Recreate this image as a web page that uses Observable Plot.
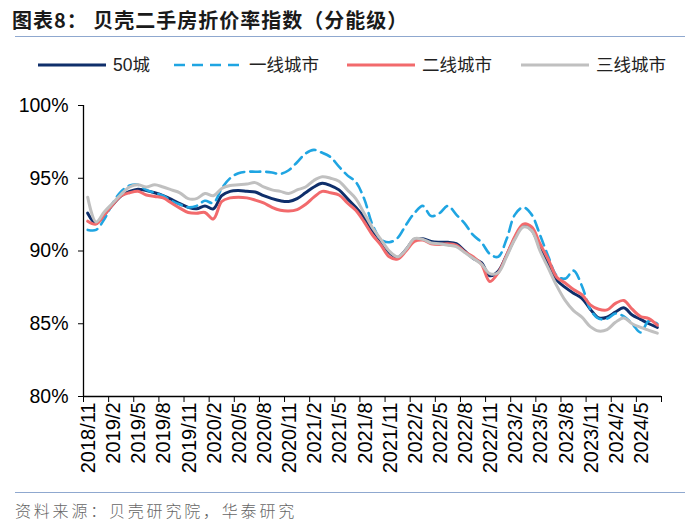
<!DOCTYPE html>
<html><head><meta charset="utf-8">
<script src="https://cdn.jsdelivr.net/npm/d3@7"></script>
<script src="https://cdn.jsdelivr.net/npm/@observablehq/plot@0.6"></script>
<style>
body{margin:0;width:700px;height:529px;position:relative;background:#fff;overflow:hidden;font-family:"Liberation Sans",Arial,sans-serif;}
#title{position:absolute;left:12px;top:5px;font-family:"Noto Sans CJK SC";font-weight:bold;font-size:20px;color:#1a1a1a;letter-spacing:1px;white-space:nowrap;}
.hr{position:absolute;left:15px;width:670px;height:0;border-top:1.5px solid #8fa8cf;}
#legend{position:absolute;top:50px;left:0;}
#chart{position:absolute;top:85px;left:0;}
#source{position:absolute;left:15px;top:498px;font-family:"Noto Sans CJK SC";font-weight:300;font-size:16px;color:#666;letter-spacing:2.8px;white-space:nowrap;}
</style>
</head><body>
<div id="title">图表8：&nbsp;贝壳二手房折价率指数（分能级）</div>
<div class="hr" style="top:36px"></div>
<div id="legend"></div>
<div id="chart"></div>
<div class="hr" style="top:492px"></div>
<div id="source">资料来源：贝壳研究院，华泰研究</div>
<script>
const months = ["2018/11","2018/12","2019/1","2019/2","2019/3","2019/4","2019/5","2019/6","2019/7","2019/8","2019/9","2019/10","2019/11","2019/12",
"2020/1","2020/2","2020/3","2020/4","2020/5","2020/6","2020/7","2020/8","2020/9","2020/10","2020/11","2020/12",
"2021/1","2021/2","2021/3","2021/4","2021/5","2021/6","2021/7","2021/8","2021/9","2021/10","2021/11","2021/12",
"2022/1","2022/2","2022/3","2022/4","2022/5","2022/6","2022/7","2022/8","2022/9","2022/10","2022/11","2022/12",
"2023/1","2023/2","2023/3","2023/4","2023/5","2023/6","2023/7","2023/8","2023/9","2023/10","2023/11","2023/12",
"2024/1","2024/2","2024/3","2024/4","2024/5","2024/6","2024/7"];
const tickLabels = ["2018/11","2019/2","2019/5","2019/8","2019/11","2020/2","2020/5","2020/8","2020/11","2021/2","2021/5","2021/8","2021/11","2022/2","2022/5","2022/8","2022/11","2023/2","2023/5","2023/8","2023/11","2024/2","2024/5"];
const yTicks = [80,85,90,95,100];
const seriesNames = ["50城","一线城市","二线城市","三线城市"];
const city50 = [92.6,91.9,92.5,93.2,93.8,94.1,94.25,94.15,94.0,93.8,
93.55,93.25,93.0,92.9,93.1,92.9,93.8,94.1,94.15,94.1,
94.05,93.8,93.6,93.45,93.4,93.6,94.0,94.4,94.65,94.5,
94.2,93.6,93.0,92.3,91.4,90.7,89.9,89.55,90.1,90.8,
90.85,90.65,90.6,90.6,90.5,90.0,89.5,89.2,88.3,88.6,
89.7,90.9,91.75,91.45,90.2,89.0,88.0,87.5,87.1,86.75,
86.0,85.4,85.45,85.8,86.1,85.6,85.3,85.0,84.75];
const tier1 = [91.45,91.45,92.2,93.3,94.1,94.5,94.55,94.2,94.0,93.8,
93.45,93.2,93.0,93.1,93.45,93.3,94.3,95.0,95.35,95.45,
95.45,95.45,95.4,95.3,95.55,96.1,96.7,96.95,96.75,96.45,
95.8,95.2,94.75,93.6,91.8,90.8,90.6,90.9,91.8,92.6,
93.1,92.4,92.6,93.1,92.5,91.9,91.1,90.6,89.8,89.6,
90.8,92.5,93.0,92.5,91.1,89.6,88.3,88.1,88.65,87.6,
86.0,85.35,85.35,85.7,85.5,85.0,84.4,85.2,85.0];
const tier2 = [92.05,91.85,92.5,93.2,93.8,94.0,94.1,93.85,93.75,93.65,
93.3,92.95,92.65,92.6,92.65,92.2,93.4,93.65,93.7,93.65,
93.5,93.3,93.0,92.8,92.75,92.85,93.2,93.7,94.1,94.0,
93.85,93.3,92.8,92.0,91.1,90.4,89.6,89.45,90.0,90.65,
90.75,90.5,90.45,90.5,90.4,89.95,89.6,89.1,87.9,88.5,
89.7,91.0,91.85,91.65,90.5,89.4,88.2,87.8,87.35,87.0,
86.3,86.0,85.95,86.4,86.6,86.0,85.5,85.35,84.9];
const tier3 = [93.7,92.0,92.7,93.3,93.9,94.4,94.55,94.4,94.55,94.4,
94.2,94.0,93.6,93.6,93.95,93.8,94.3,94.5,94.55,94.6,
94.7,94.4,94.2,94.1,93.95,94.2,94.4,94.85,95.1,95.0,
94.8,94.2,93.6,92.6,91.6,90.8,90.0,89.6,90.1,90.85,
90.8,90.55,90.5,90.4,90.3,89.9,89.5,89.1,88.45,88.5,
89.6,90.8,91.65,91.4,90.0,88.8,87.6,86.6,85.9,85.45,
84.8,84.5,84.6,85.1,85.4,85.0,84.75,84.55,84.35];

const colors = ["#0f2f6b","#1fa5e2","#f26a6c","#c0c0c0"];
const dashes = [null,"10,6",null,null];
const widths = [3,2.6,3,3];
const valueSets = [city50, tier1, tier2, tier3];

const data = seriesNames.map((name, s) => months.map((m, i) => ({series: name, pos: i + 0.5, value: valueSets[s][i]})));

const boundaryTicks = tickLabels.map(t => months.indexOf(t)).concat([months.length]);
const labelTicks = tickLabels.map(t => months.indexOf(t) + 0.5);

const chart = Plot.plot({
  width: 700,
  height: 400,
  marginLeft: 83,
  marginRight: 39,
  marginTop: 20,
  marginBottom: 89,
  style: {fontFamily: "'Liberation Sans', Arial, sans-serif", color: "#000", background: "transparent", overflow: "visible"},
  x: {domain: [0, months.length]},
  y: {domain: [80, 100]},
  marks: [
    Plot.axisY({ticks: yTicks, tickFormat: d => d + "%", tickSize: 5, tickPadding: 10, fontSize: 19.5, label: null, stroke: "#000"}),
    Plot.axisX({ticks: boundaryTicks, tickFormat: () => "", tickSize: 6, label: null}),
    Plot.axisX({ticks: labelTicks, tickFormat: d => months[Math.floor(d)], tickSize: 0, tickPadding: 6, tickRotate: -90, fontSize: 20, dx: 1, label: null}),
    ...data.map((d, s) => Plot.line(d, {x: "pos", y: "value", stroke: colors[s], strokeWidth: widths[s], strokeDasharray: dashes[s], curve: "catmull-rom"})),
    Plot.ruleX([0], {stroke: "#000", strokeWidth: 1.3}),
    Plot.ruleY([80], {stroke: "#000", strokeWidth: 1.3})
  ]
});
document.getElementById("chart").appendChild(chart);

// legend
const legendX = [38, 174, 347, 521];
const lg = d3.select("#legend").append("svg").attr("width", 700).attr("height", 30);
seriesNames.forEach((name, s) => {
  lg.append("line").attr("x1", legendX[s]).attr("x2", legendX[s] + 68).attr("y1", 15).attr("y2", 15)
    .attr("stroke", colors[s]).attr("stroke-width", widths[s]).attr("stroke-dasharray", dashes[s] ? "11,7" : null);
  lg.append("text").attr("x", legendX[s] + 75).attr("y", 21).text(name)
    .attr("font-size", 17.5).attr("fill", "#222")
    .attr("font-family", "'Liberation Sans','Noto Sans CJK SC',sans-serif");
});
</script>
</body></html>
